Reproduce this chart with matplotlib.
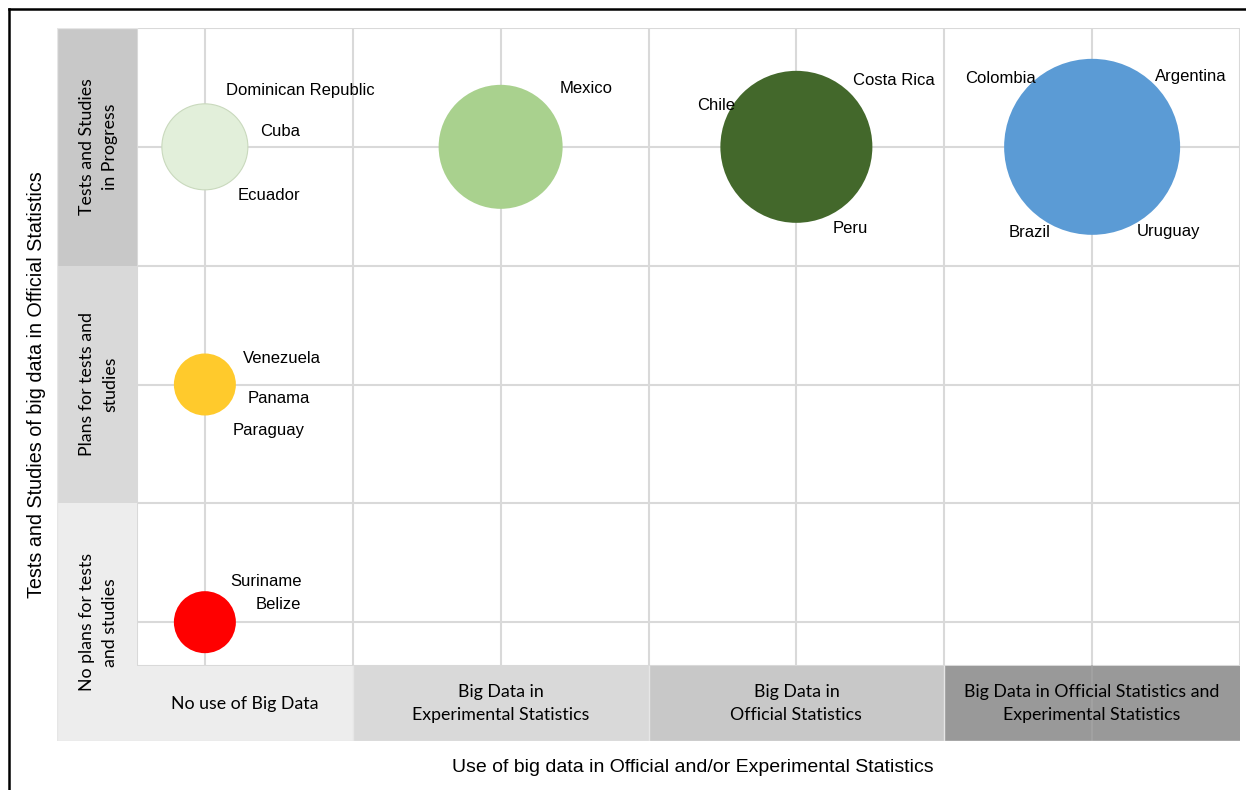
import numpy as np
import matplotlib.pyplot as plt
from matplotlib.patches import Rectangle
from matplotlib.lines import Line2D

# categories
use_levels = ['No use of Big Data',
              'Big Data in\nExperimental Statistics',
              'Big Data in\nOfficial Statistics',
              'Big Data in Official Statistics and\nExperimental Statistics']
study_levels = ['No plans for tests\nand studies',
                'Plans for tests and\nstudies',
                'Tests and Studies\nin Progress']

# bubble groups
grp_use = [0, 1, 2, 3, 0, 0]
grp_study = [2, 2, 2, 2, 1, 0]
grp_size = [86, 124, 152, 176, 62, 62]   # bubble diameter (px)
grp_countries = [['Dominican Republic', 'Cuba', 'Ecuador'],
                 ['Mexico'],
                 ['Chile', 'Costa Rica', 'Peru'],
                 ['Colombia', 'Argentina', 'Brazil', 'Uruguay'],
                 ['Venezuela', 'Panama', 'Paraguay'],
                 ['Suriname', 'Belize']]

bubble_colors = ['#e2efda', '#a9d18e', '#43682b', '#5b9bd5', '#ffca2c', '#ff0000']
bubble_edges = ['#c9d9bd', 'none', 'none', 'none', 'none', 'none']
row_band_colors = ['#ededed', '#d9d9d9', '#c8c8c8']
col_band_colors = ['#ededed', '#d9d9d9', '#c8c8c8', '#999999']

# label offsets from bubble centre (px, y down)
label_offsets = {
    'Dominican Republic': (21, -56), 'Cuba': (55, -15), 'Ecuador': (33, 49),
    'Mexico': (59, -58),
    'Chile': (-99, -41), 'Costa Rica': (57, -66), 'Peru': (36, 82),
    'Colombia': (-127, -68), 'Argentina': (63, -70), 'Brazil': (-83, 86), 'Uruguay': (45, 85),
    'Venezuela': (38, -26), 'Panama': (43, 14), 'Paraguay': (28, 46),
    'Suriname': (25, -41), 'Belize': (51, -18),
}

W, H = 1246, 790
fig = plt.figure(figsize=(W / 100, H / 100), dpi=100)
ax = fig.add_axes([57 / W, 1 - 741 / H, (1240 - 57) / W, (741 - 28) / H])
ax.set_xlim(-0.5, 3.5)
ax.set_ylim(-0.5, 2.5)
for s in ax.spines.values():
    s.set_visible(False)
ax.set_xticks([])
ax.set_yticks([])

grid_c = '#d9d9d9'
band_w = 80 / 296    # left band width in data units
band_h = 75 / 237.7  # bottom band height in data units
x0 = -0.5 + band_w
y0 = -0.5 + band_h

# gridlines inside the plotting area
for gx in np.arange(0, 3.51, 0.5):
    ax.plot([gx, gx], [y0, 2.5], color=grid_c, lw=1.5, zorder=1)
for gy in np.arange(0, 2.51, 0.5):
    ax.plot([x0, 3.5], [gy, gy], color=grid_c, lw=1.5, zorder=1)
ax.plot([x0, x0], [y0, 2.5], color=grid_c, lw=1.5, zorder=1)
ax.plot([x0, 3.5], [y0, y0], color=grid_c, lw=1.5, zorder=1)

# left band (row labels)
for i, lab in enumerate(study_levels):
    ax.add_patch(Rectangle((-0.5, i - 0.5), band_w, 1, facecolor=row_band_colors[i],
                           edgecolor='none', zorder=2))
    ax.text(x0 - band_w / 2 + 0.005, i, lab, rotation=90, ha='center', va='center',
            fontsize=12.8, family='Lato', color='black', zorder=5, linespacing=1.6)

# bottom band (column labels)
for j, lab in enumerate(use_levels):
    ax.add_patch(Rectangle((j - 0.5, -0.5), 1, band_h, facecolor=col_band_colors[j],
                           edgecolor='none', zorder=2))
    cx = j if j > 0 else (x0 + 0.5) / 2
    ax.text(cx, -0.5 + band_h / 2, lab, ha='center', va='center',
            fontsize=12.8, family='Lato', color='black', zorder=5, linespacing=1.6)
for bx in [0.5, 1.5, 2.5]:
    ax.plot([bx, bx], [-0.5, y0], color='#e6e6e6', lw=1, zorder=3)
ax.plot([3, 3], [-0.5, y0], color='#a3a3a3', lw=1.2, zorder=3)
ax.plot([-0.5, 3.5], [-0.5, -0.5], color='#e6e6e6', lw=1, zorder=3)
ax.plot([-0.5, -0.5], [-0.5, 2.5], color='#e6e6e6', lw=1, zorder=3)
ax.plot([-0.5, x0], [2.5, 2.5], color='#e6e6e6', lw=1, zorder=3)

# bubbles
sizes = [(d * 0.72) ** 2 for d in grp_size]
ax.scatter(grp_use, grp_study, s=sizes, c=bubble_colors, edgecolors=bubble_edges,
           linewidths=0.8, zorder=3)

# country labels
for gx, gy, names in zip(grp_use, grp_study, grp_countries):
    for n in names:
        dx, dy = label_offsets[n]
        ax.annotate(n, (gx, gy), xytext=(dx * 0.72, -dy * 0.72), textcoords='offset points',
                    ha='left', va='center', fontsize=12, family='Liberation Sans', zorder=6)

# axis titles
fig.text(693 / W, 1 - 767 / H, 'Use of big data in Official and/or Experimental Statistics',
         ha='center', va='center', fontsize=14, family='Liberation Sans')
fig.text(37 / W, 1 - 385 / H, 'Tests and Studies of big data in Official Statistics',
         ha='center', va='center', rotation=90, fontsize=14.2, family='Liberation Sans')

# outer frame
fig.add_artist(Line2D([9 / W, 9 / W], [1 - 9 / H, 0], color='black', lw=1.8))
fig.add_artist(Line2D([9 / W, 1], [1 - 9 / H, 1 - 9 / H], color='black', lw=1.8))

fig.savefig('out.png', dpi=100)
